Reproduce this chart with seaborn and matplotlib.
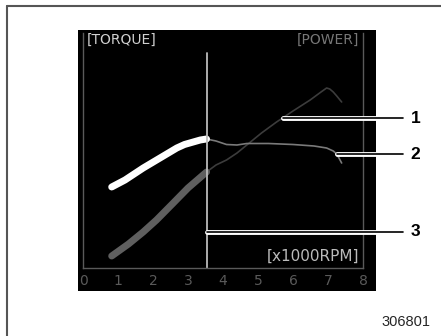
import numpy as np
import pandas as pd
import matplotlib
matplotlib.use("Agg")
import matplotlib.pyplot as plt
import matplotlib.patheffects as pe
from matplotlib.patches import Rectangle
from matplotlib.lines import Line2D
import seaborn as sns

# engine speed (x1000 rpm) and curve heights (arbitrary units)
torque_rpm = [0.82, 1.2, 1.72, 2.2, 2.68, 2.9, 3.15, 3.35, 3.53,
              3.8, 4.1, 4.4, 4.68, 5.3, 6.0, 6.6, 6.96, 7.15, 7.25, 7.39]
torque_val = [81, 88, 100, 110, 120, 123.5, 126, 128, 129,
              127, 123.5, 123, 124.5, 124.5, 123.5, 122, 120, 117, 114, 105]
power_rpm = [0.82, 1.3, 1.72, 2.1, 2.58, 3.0, 3.53,
             3.8, 4.1, 4.4, 4.68, 5.1, 5.53, 6.0, 6.49, 6.8, 6.96, 7.05, 7.15, 7.25, 7.39]
power_val = [12, 24, 36, 48, 65, 80, 96,
             103, 108, 115, 123, 135, 146, 157, 168, 176, 180, 179, 176, 172, 166]
current_rpm = 3.53
marker_top = 215

tick_labels = ["0", "1", "2", "3", "4", "5", "6", "7", "8"]

# callouts: (label, start x, y)
callouts = [("1", 5.71, 150), ("2", 7.25, 114), ("3", current_rpm, 36)]

sns.set_style("white")
plt.rcParams["font.family"] = ["DejaVu Sans"]

W, H = 441, 336
fig = plt.figure(figsize=(W / 100, H / 100), dpi=100)
fig.patch.set_facecolor("white")

# outer document frame
fig.add_artist(Line2D([7 / W, 1], [1 - 6 / H, 1 - 6 / H], color="#555555", lw=1.5))
fig.add_artist(Line2D([7 / W, 7 / W], [0, 1 - 6 / H], color="#555555", lw=1.5))

# black display screen
fig.add_artist(Rectangle((78 / W, (H - 291) / H), 298 / W, 261 / H,
                         facecolor="black", edgecolor="none", zorder=0))

ax = fig.add_axes([83 / W, (H - 268) / H, 280 / W, 235 / H])
ax.set_facecolor("none")
ax.set_xlim(0, 8)
ax.set_ylim(0, 235)

t_split = torque_rpm.index(current_rpm)
p_split = power_rpm.index(current_rpm)
torque_df = pd.DataFrame({"rpm": torque_rpm, "val": torque_val})
power_df = pd.DataFrame({"rpm": power_rpm, "val": power_val})

sns.lineplot(data=power_df.iloc[p_split:], x="rpm", y="val", ax=ax,
             color="#3c3c3c", lw=1.2, sort=False)
sns.lineplot(data=torque_df.iloc[t_split:], x="rpm", y="val", ax=ax,
             color="#7a7a7a", lw=1.2, sort=False)
sns.lineplot(data=power_df.iloc[:p_split + 1], x="rpm", y="val", ax=ax,
             color="#5f5f5f", lw=5, sort=False, solid_capstyle="round")
sns.lineplot(data=torque_df.iloc[:t_split + 1], x="rpm", y="val", ax=ax,
             color="white", lw=5, sort=False, solid_capstyle="round")

ax.plot([current_rpm, current_rpm], [0, marker_top], color="#bbbbbb", lw=1.3)

for sp in ["left", "right", "bottom"]:
    ax.spines[sp].set_color("#5a5a5a")
    ax.spines[sp].set_linewidth(1)
ax.spines["top"].set_visible(False)

ax.set_xticks(range(9))
ax.set_xticklabels(tick_labels)
ax.set_yticks([])
ax.tick_params(axis="x", length=0, pad=4, labelsize=10, labelcolor="#5a5a5a")
ax.set_xlabel("")
ax.set_ylabel("")

ax.text(0.015, 0.97, "[TORQUE]", transform=ax.transAxes, color="#d0d0d0",
        fontsize=10, ha="left", va="center")
ax.text(0.985, 0.97, "[POWER]", transform=ax.transAxes, color="#777777",
        fontsize=10, ha="right", va="center")
ax.text(0.985, 0.05, "[x1000RPM]", transform=ax.transAxes, color="#bbbbbb",
        fontsize=11, ha="right", va="center")

halo = [pe.Stroke(linewidth=3.5, foreground="white"), pe.Normal()]
for label, x0, y0 in callouts:
    ax.plot([x0, 9.14], [y0, y0], color="black", lw=1.2, clip_on=False,
            path_effects=halo, zorder=5)
    ax.text(9.5, y0, label, fontsize=12.5, fontweight="bold", color="black",
            ha="center", va="center", clip_on=False,
            family=["Liberation Sans", "DejaVu Sans"])

fig.text(430 / W, 1 - 322 / H, "306801", fontsize=10.5, ha="right", va="center",
         family=["Liberation Sans", "DejaVu Sans"])

fig.savefig("out.png", dpi=100)
